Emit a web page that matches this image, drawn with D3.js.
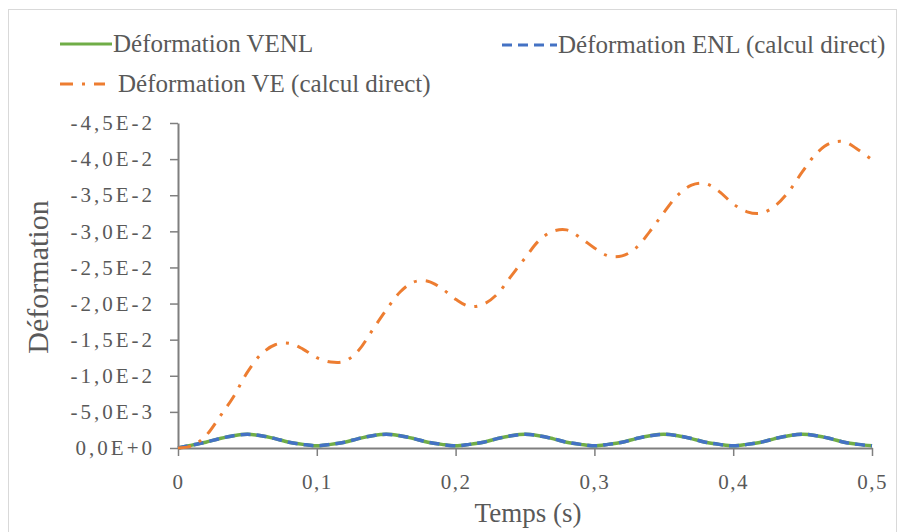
<!DOCTYPE html>
<html>
<head>
<meta charset="utf-8">
<script src="https://cdn.jsdelivr.net/npm/d3@7"></script>
<style>
  body { margin: 0; background: #fff; }
  svg text { font-family: "Liberation Serif", "Times New Roman", Times, serif !important; fill: #595959; }
</style>
</head>
<body>
<div id="chart"></div>
<script>
// Déformation en fonction du temps
const temps = [0, 0.01, 0.02, 0.03, 0.04, 0.05, 0.06, 0.07, 0.08, 0.09,
  0.10, 0.11, 0.12, 0.13, 0.14, 0.15, 0.16, 0.17, 0.18, 0.19,
  0.20, 0.21, 0.22, 0.23, 0.24, 0.25, 0.26, 0.27, 0.28, 0.29,
  0.30, 0.31, 0.32, 0.33, 0.34, 0.35, 0.36, 0.37, 0.38, 0.39,
  0.40, 0.41, 0.42, 0.43, 0.44, 0.45, 0.46, 0.47, 0.48, 0.49, 0.50];

const defVENL = [0, -0.0004, -0.0008, -0.0013, -0.0017, -0.0019, -0.0017, -0.0013, -0.0008, -0.0005,
  -0.0003, -0.0005, -0.0008, -0.0013, -0.0017, -0.0019, -0.0017, -0.0013, -0.0008, -0.0005,
  -0.0003, -0.0005, -0.0008, -0.0013, -0.0017, -0.0019, -0.0017, -0.0013, -0.0008, -0.0005,
  -0.0003, -0.0005, -0.0008, -0.0013, -0.0017, -0.0019, -0.0017, -0.0013, -0.0008, -0.0005,
  -0.0003, -0.0005, -0.0008, -0.0013, -0.0017, -0.0019, -0.0017, -0.0013, -0.0008, -0.0005, -0.0003];

const defENL = [0, -0.0004, -0.0008, -0.0013, -0.0017, -0.0019, -0.0017, -0.0013, -0.0008, -0.0005,
  -0.0003, -0.0005, -0.0008, -0.0013, -0.0017, -0.0019, -0.0017, -0.0013, -0.0008, -0.0005,
  -0.0003, -0.0005, -0.0008, -0.0013, -0.0017, -0.0019, -0.0017, -0.0013, -0.0008, -0.0005,
  -0.0003, -0.0005, -0.0008, -0.0013, -0.0017, -0.0019, -0.0017, -0.0013, -0.0008, -0.0005,
  -0.0003, -0.0005, -0.0008, -0.0013, -0.0017, -0.0019, -0.0017, -0.0013, -0.0008, -0.0005, -0.0003];

const defVE = [0, -0.0003, -0.0017, -0.0043, -0.0071, -0.0105, -0.0130, -0.0143, -0.0145, -0.0137,
  -0.0125, -0.0119, -0.0120, -0.0135, -0.0163, -0.0191, -0.0216, -0.0230, -0.0231, -0.0221,
  -0.0206, -0.0196, -0.0199, -0.0213, -0.0238, -0.0263, -0.0287, -0.0300, -0.0302, -0.0291,
  -0.0277, -0.0266, -0.0266, -0.0277, -0.0300, -0.0326, -0.0350, -0.0364, -0.0366, -0.0355,
  -0.0338, -0.0327, -0.0325, -0.0335, -0.0355, -0.0383, -0.0408, -0.0422, -0.0424, -0.0413, -0.0399];

const xTicks = [0, 0.1, 0.2, 0.3, 0.4, 0.5];
const xTickLabels = ["0", "0,1", "0,2", "0,3", "0,4", "0,5"];
const yTicks = [0, -0.005, -0.010, -0.015, -0.020, -0.025, -0.030, -0.035, -0.040, -0.045];
const yTickLabels = ["0,0E+0", "-5,0E-3", "-1,0E-2", "-1,5E-2", "-2,0E-2", "-2,5E-2",
  "-3,0E-2", "-3,5E-2", "-4,0E-2", "-4,5E-2"];

const seriesNames = ["Déformation VENL", "Déformation ENL (calcul direct)", "Déformation VE (calcul direct)"];
const seriesColors = ["#70ad47", "#4472c4", "#ed7d31"];

const serif = '"Liberation Serif", "Times New Roman", serif';
const width = 903;
const height = 532;

const svg = d3.select("#chart")
    .append("svg")
    .attr("width", width)
    .attr("height", height);

// cadre du graphique
svg.append("rect")
    .attr("x", 8.5).attr("y", 9.5)
    .attr("width", 888).attr("height", 540)
    .attr("fill", "none")
    .attr("stroke", "#d9d9d9");

const x = d3.scaleLinear().domain([0, 0.5]).range([178, 872]);
const y = d3.scaleLinear().domain([0, -0.045]).range([448, 123]);

const axeY = svg.append("g")
    .attr("transform", `translate(${x(0)},0)`)
    .call(d3.axisLeft(y).tickValues(yTicks).tickSize(8).tickSizeOuter(0).tickPadding(15)
        .tickFormat((d, i) => yTickLabels[i]));

const axeX = svg.append("g")
    .attr("transform", `translate(0,${y(0)})`)
    .call(d3.axisBottom(x).tickValues(xTicks).tickSize(8).tickSizeOuter(0).tickPadding(18)
        .tickFormat((d, i) => xTickLabels[i]));

[axeX, axeY].forEach(g => {
    g.attr("font-family", serif);
    g.select(".domain").attr("stroke", "#7f7f7f").attr("stroke-width", 2);
    g.selectAll(".tick line").attr("stroke", "#7f7f7f").attr("stroke-width", 1.5);
    g.selectAll(".tick text")
        .style("font-size", "21px")
        .attr("fill", "#595959");
});
axeY.selectAll(".tick text").style("letter-spacing", "3px");
axeX.selectAll(".tick text").style("letter-spacing", "1.5px");

const line = d3.line()
    .x((d, i) => x(temps[i]))
    .y(d => y(d))
    .curve(d3.curveCatmullRom);

svg.append("path")
    .datum(defVENL)
    .attr("d", line)
    .attr("fill", "none")
    .attr("stroke", seriesColors[0])
    .attr("stroke-width", 3.5);

svg.append("path")
    .datum(defENL)
    .attr("d", line)
    .attr("fill", "none")
    .attr("stroke", seriesColors[1])
    .attr("stroke-width", 3.5)
    .attr("stroke-dasharray", "10,6");

svg.append("path")
    .datum(defVE)
    .attr("d", line)
    .attr("fill", "none")
    .attr("stroke", seriesColors[2])
    .attr("stroke-width", 3)
    .attr("stroke-dasharray", "13,9,3,9");

// titres des axes
svg.append("text")
    .attr("x", 528).attr("y", 522)
    .attr("text-anchor", "middle")
    .attr("font-family", serif)
    .style("font-size", "27px")
    .text("Temps  (s)");

svg.append("text")
    .attr("transform", "translate(48,277) rotate(-90)")
    .attr("text-anchor", "middle")
    .attr("font-family", serif)
    .style("font-size", "30px")
    .text("Déformation");

// légende
const legende = [
    { x1: 60, x2: 112, y: 44, tx: 113, dash: null },
    { x1: 502, x2: 557, y: 45, tx: 558, dash: "10,6" },
    { x1: 60, x2: 105, y: 84, tx: 118, dash: "13,9,3,9" }
];

legende.forEach((l, i) => {
    svg.append("line")
        .attr("x1", l.x1).attr("x2", l.x2)
        .attr("y1", l.y).attr("y2", l.y)
        .attr("stroke", seriesColors[i])
        .attr("stroke-width", 3)
        .attr("stroke-dasharray", l.dash);
    svg.append("text")
        .attr("x", l.tx).attr("y", l.y + 8)
        .attr("font-family", serif)
        .style("font-size", "25px")
        .text(seriesNames[i]);
});
</script>
</body>
</html>
